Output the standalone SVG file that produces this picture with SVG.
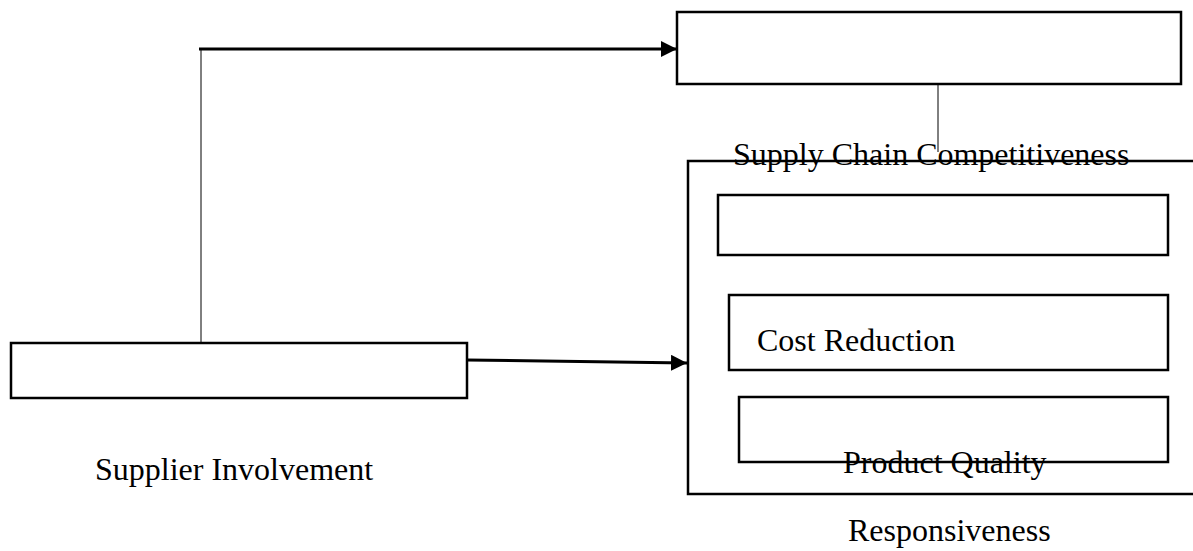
<svg xmlns="http://www.w3.org/2000/svg" width="1193" height="551" viewBox="0 0 1193 551">
<style>
.box{fill:none;stroke:#000;stroke-width:2.5}
.thick{fill:none;stroke:#000;stroke-width:3}
.thin{fill:none;stroke:#000;stroke-width:1}
text{font-family:"Liberation Serif","Times New Roman",serif;font-size:32px;fill:#000}
</style>
<defs>
<marker id="arrB" markerWidth="16" markerHeight="16" refX="16" refY="8" orient="auto" markerUnits="userSpaceOnUse">
<path d="M0,0 L16,8 L0,16 z" fill="#000"/>
</marker>
</defs>
<rect width="1193" height="551" fill="#fff"/>
<g id="connectors">
<line class="thin" x1="201" y1="49" x2="201" y2="343"/>
<line class="thick" x1="199" y1="49" x2="677" y2="49" marker-end="url(#arrB)"/>
<line class="thick" x1="467" y1="360" x2="687" y2="363" marker-end="url(#arrB)"/>
<line class="thin" x1="938" y1="84" x2="938" y2="152"/>
</g>
<g id="supply-chain-competitiveness">
<rect class="box" x="677" y="12" width="504" height="72"/>
<text x="733" y="165">Supply Chain Competitiveness</text>
</g>
<g id="outer-group">
<path class="box" d="M1195,161 H688 V494 H1195"/>
</g>
<g id="inner-box-1">
<rect class="box" x="718" y="195" width="450" height="60"/>
</g>
<g id="cost-reduction">
<rect class="box" x="729" y="295" width="439" height="75"/>
<text x="757" y="351">Cost Reduction</text>
</g>
<g id="product-quality">
<rect class="box" x="739" y="397" width="429" height="65"/>
<text x="843" y="473">Product Quality</text>
</g>
<g id="supplier-involvement">
<rect class="box" x="11" y="343" width="456" height="55"/>
<text x="95" y="480">Supplier Involvement</text>
</g>
<g id="responsiveness">
<text x="848" y="541">Responsiveness</text>
</g>
</svg>
